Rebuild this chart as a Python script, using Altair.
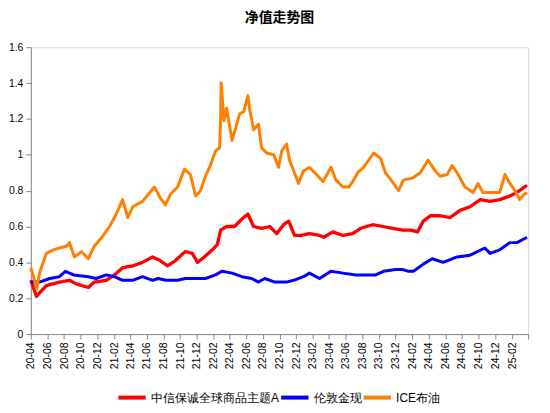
import altair as alt
import pandas as pd

series_names = ["中信保诚全球商品主题A", "伦敦金现", "ICE布油"]
series_colors = ["#FF0000", "#0000FF", "#FF8000"]

fund_dates = ["2020-04-01","2020-04-22","2020-05-03","2020-05-28","2020-07-15","2020-08-21","2020-09-15","2020-10-29","2020-11-20",
              "2021-01-03","2021-02-02","2021-03-04","2021-04-10","2021-05-16","2021-06-22","2021-07-20","2021-08-16","2021-09-14","2021-10-20",
              "2021-11-15","2021-12-04","2021-12-29","2022-01-28","2022-02-15","2022-02-27","2022-03-21","2022-04-19","2022-05-15","2022-06-07",
              "2022-06-28","2022-07-27","2022-08-26","2022-09-21","2022-10-16","2022-11-04","2022-11-25","2022-12-20","2023-01-19","2023-02-25",
              "2023-03-13","2023-04-15","2023-05-22","2023-06-27","2023-07-26","2023-09-08","2023-10-15","2023-11-21","2023-12-27","2024-01-25",
              "2024-02-20","2024-03-12","2024-04-07","2024-05-13","2024-06-19","2024-07-25","2024-08-31","2024-10-07","2024-11-12","2024-12-18",
              "2025-01-24","2025-02-19","2025-03-28"]
fund_values = [0.30,0.21,0.23,0.27,0.29,0.30,0.28,0.26,0.29,
               0.30,0.33,0.37,0.38,0.40,0.43,0.41,0.38,0.41,0.46,
               0.45,0.40,0.43,0.47,0.50,0.58,0.60,0.60,0.64,0.67,
               0.60,0.59,0.60,0.56,0.61,0.63,0.55,0.55,0.56,0.55,
               0.54,0.57,0.55,0.56,0.59,0.61,0.60,0.59,0.58,0.58,
               0.57,0.63,0.66,0.66,0.65,0.69,0.71,0.75,0.74,0.75,
               0.77,0.79,0.83]

gold_dates = ["2020-04-01","2020-05-03","2020-06-09","2020-07-15","2020-08-06","2020-09-05","2020-10-29","2020-11-27","2021-01-03","2021-02-02",
              "2021-03-04","2021-04-10","2021-05-16","2021-06-22","2021-07-13","2021-08-10","2021-09-22","2021-10-20","2022-01-02","2022-02-08",
              "2022-03-04","2022-04-10","2022-05-16","2022-06-21","2022-07-16","2022-08-08","2022-09-14","2022-10-27","2022-11-22","2022-12-28",
              "2023-01-19","2023-02-25","2023-04-08","2023-05-22","2023-07-08","2023-08-25","2023-09-19","2023-10-18","2023-12-01","2023-12-27",
              "2024-01-18","2024-02-05","2024-03-12","2024-04-14","2024-05-24","2024-07-14","2024-08-31","2024-10-24","2024-11-12","2024-12-18",
              "2025-01-24","2025-02-19","2025-03-28"]
gold_values = [0.29,0.29,0.31,0.32,0.35,0.33,0.32,0.31,0.33,0.32,
               0.30,0.30,0.32,0.30,0.31,0.30,0.30,0.31,0.31,0.33,
               0.35,0.34,0.32,0.31,0.29,0.31,0.29,0.29,0.30,0.32,
               0.34,0.31,0.35,0.34,0.33,0.33,0.33,0.35,0.36,0.36,
               0.35,0.35,0.39,0.42,0.40,0.43,0.44,0.48,0.45,0.47,
               0.51,0.51,0.54]

oil_dates = ["2020-04-01","2020-04-11","2020-04-22","2020-05-03","2020-05-28","2020-06-23","2020-07-15","2020-08-10","2020-08-21","2020-09-08",
             "2020-10-04","2020-10-29","2020-11-20","2020-12-23","2021-01-15","2021-02-09","2021-03-04","2021-03-23","2021-04-10","2021-05-16",
             "2021-06-29","2021-07-20","2021-08-08","2021-08-27","2021-09-22","2021-10-17","2021-11-08","2021-11-27","2021-12-15","2022-01-02",
             "2022-01-20","2022-02-08","2022-02-23","2022-02-27","2022-03-01","2022-03-11","2022-03-21","2022-04-10","2022-04-27","2022-05-08",
             "2022-05-23","2022-06-07","2022-06-14","2022-06-28","2022-07-16","2022-07-27","2022-08-15","2022-09-10","2022-09-28","2022-10-09",
             "2022-10-27","2022-11-07","2022-11-25","2022-12-10","2022-12-28","2023-01-19","2023-02-14","2023-03-10","2023-04-08","2023-04-26",
             "2023-05-22","2023-06-13","2023-07-01","2023-07-15","2023-08-06","2023-09-12","2023-10-07","2023-10-25","2023-11-24","2023-12-12",
             "2023-12-31","2024-02-02","2024-03-01","2024-03-30","2024-04-25","2024-05-13","2024-06-08","2024-06-26","2024-07-14","2024-08-12",
             "2024-09-11","2024-09-29","2024-10-17","2024-11-23","2024-12-18","2025-01-06","2025-01-24","2025-02-12","2025-03-01","2025-03-18",
             "2025-03-28"]
oil_values = [0.37,0.32,0.25,0.34,0.45,0.47,0.48,0.49,0.51,0.43,
              0.46,0.42,0.49,0.55,0.60,0.67,0.75,0.65,0.71,0.74,
              0.82,0.76,0.72,0.78,0.82,0.92,0.89,0.77,0.80,0.88,
              0.94,1.02,1.04,1.20,1.40,1.19,1.26,1.08,1.17,1.23,
              1.24,1.33,1.25,1.14,1.17,1.04,1.01,1.00,0.93,1.02,
              1.06,0.97,0.90,0.84,0.91,0.93,0.89,0.85,0.93,0.86,
              0.82,0.82,0.86,0.90,0.93,1.01,0.98,0.90,0.84,0.80,
              0.86,0.87,0.90,0.97,0.91,0.88,0.89,0.94,0.90,0.82,
              0.79,0.84,0.79,0.79,0.79,0.89,0.84,0.80,0.75,0.78,
              0.79]

y_ticks = [0, 0.2, 0.4, 0.6, 0.8, 1.0, 1.2, 1.4, 1.6]
x_tick_months = [(2020 + (3 + 2 * i) // 12, (3 + 2 * i) % 12 + 1) for i in range(30)] + [(2025, 4)]

FONT = "Liberation Sans, Arial, Noto Sans CJK SC"

def frame(name, dates, values):
    return pd.DataFrame({"date": dates, "value": values, "series": name})

frames = [frame(series_names[0], fund_dates, fund_values),
          frame(series_names[1], gold_dates, gold_values),
          frame(series_names[2], oil_dates, oil_values)]

x_enc = alt.X(
    "date:T",
    scale=alt.Scale(type="utc",
                    domain=[alt.DateTime(year=2020, month=4, date=1, utc=True),
                            alt.DateTime(year=2025, month=4, date=1, utc=True)]),
    axis=alt.Axis(values=[alt.DateTime(year=y, month=m, date=1, utc=True) for y, m in x_tick_months],
                  labelExpr="utcFormat(datum.value, '%y-%m') == '25-04' ? '' : utcFormat(datum.value, '%y-%m')",
                  labelAngle=-90, labelAlign="right",
                  labelBaseline="middle", labelPadding=3, title=None, grid=False,
                  tickSize=5, labelFontSize=10.5, labelOverlap=False),
)
y_enc = alt.Y(
    "value:Q",
    scale=alt.Scale(domain=[0, 1.6], nice=False, zero=True),
    axis=alt.Axis(values=y_ticks, format="~g", title=None, grid=False, tickSize=5,
                  labelFontSize=10.5, labelPadding=3),
)
color_enc = alt.Color(
    "series:N",
    scale=alt.Scale(domain=series_names, range=series_colors),
    legend=alt.Legend(title=None, orient="none", direction="horizontal",
                      legendX=86, legendY=337,
                      symbolType="stroke", symbolStrokeWidth=4, symbolSize=760,
                      labelFontSize=12, columnPadding=-6, labelOffset=3),
)

layers = []
for i, df in enumerate(frames):
    layers.append(
        alt.Chart(df).mark_line(strokeWidth=3.3 if i == 0 else 3, strokeJoin="round")
        .encode(x=x_enc, y=y_enc, color=color_enc)
    )

chart = alt.layer(*layers).properties(
    width=501, height=289,
    title=alt.TitleParams("净值走势图", fontSize=14, fontWeight="bold", color="#000000",
                          font=FONT, offset=17),
    padding={"left": 0, "top": 2, "right": 8, "bottom": 4},
).configure_view(stroke=None).configure_axis(
    domainColor="#404040", domainWidth=2, tickColor="#404040", tickWidth=1.5,
    labelColor="#000000", labelFont=FONT,
).configure_legend(labelFont=FONT, labelColor="#000000").configure(background="white")

chart.save("out.html", embed_options={"renderer": "svg", "actions": False})
